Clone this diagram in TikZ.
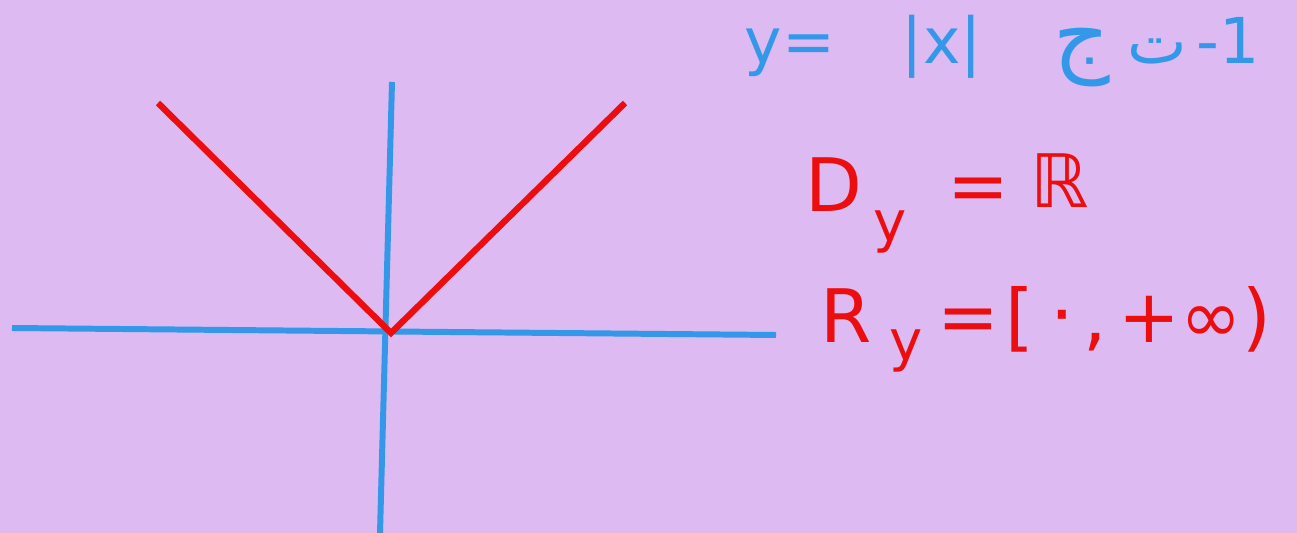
\documentclass[tikz,border=0pt]{standalone}
\usepackage{fontspec}
\setmainfont{DejaVu Sans}
\newfontfamily\arabicfont[Script=Arabic]{DejaVu Sans}
\TeXXeTstate=1
\definecolor{bgc}{RGB}{221,186,241}
\definecolor{axisblue}{RGB}{52,152,232}
\definecolor{graphred}{RGB}{236,14,14}
\tikzset{
  axisline/.style={draw=axisblue,line width=3.4pt},
  graphline/.style={draw=graphred,line width=3.6pt,line join=miter},
  bluetext/.style={text=axisblue,inner sep=0pt,anchor=base,font=\fontsize{36}{40}\selectfont},
  redtext/.style={text=graphred,inner sep=0pt,anchor=base,font=\fontsize{42}{46}\selectfont},
  redsub/.style={text=graphred,inner sep=0pt,anchor=base,font=\fontsize{32}{36}\selectfont},
}
\begin{document}
\begin{tikzpicture}[x=0.02cm,y=-0.02cm]
\fill[bgc] (0,0) rectangle (1297,533);
\useasboundingbox (0,0) rectangle (1297,533);
% axes
\coordinate (xl) at (12,328);
\coordinate (xr) at (776,335);
\coordinate (yt) at (392,82);
\coordinate (yb) at (380,533);
\coordinate (o) at (391,333);
\coordinate (gl) at (158,103);
\coordinate (gr) at (625,103);
\draw[axisline] (xl) -- (xr);
\draw[axisline] (yt) -- (yb);
\draw[graphline] (gl) -- (o) -- (gr);
% blue title
\node[bluetext] (t1) at (790,64) {y=};
\node[bluetext] (t2) at (942,64) {|x|};
\node[bluetext,font=\fontsize{50}{52}\selectfont] (t3) at (1082,66) {\arabicfont\beginR ج\endR};
\node[bluetext] (t4) at (1157,64) {\arabicfont\beginR ت\endR};
\node[bluetext] (t5) at (1228,64) {-1};
% red labels: D_y = R
\node[redtext] (d1) at (834,212) {D};
\node[redsub] (d2) at (890,242) {y};
\node[redtext] (d3) at (978,212) {=};
\node[redtext] (d4) at (1060,208) {ℝ};
% R_y = [0, +inf)
\node[redtext] (r1) at (846,342) {R};
\node[redsub] (r2) at (906,360) {y};
\node[redtext] (r3) at (968,342) {=};
\node[redtext] (r4) at (1020,342) {[};
\node[redtext] (r5) at (1062,336) {\arabicfont ۰};
\node[redtext] (r6) at (1095,342) {,};
\node[redtext] (r7) at (1195,342) {+∞)};
\end{tikzpicture}
\end{document}
